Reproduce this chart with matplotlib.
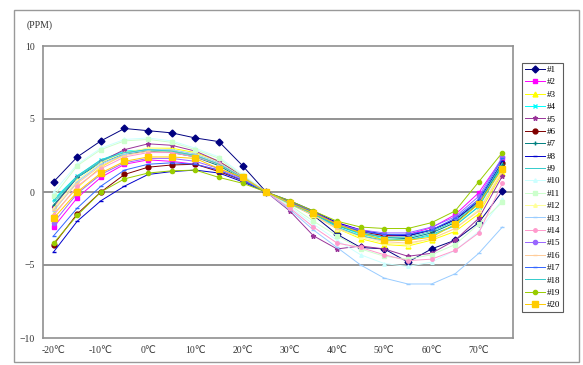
import matplotlib
matplotlib.use('Agg')
import matplotlib.pyplot as plt
from matplotlib.patches import Rectangle

# temperature categories (every 5 degC)
temps = [-20, -15, -10, -5, 0, 5, 10, 15, 20, 25, 30, 35, 40, 45, 50, 55, 60, 65, 70, 75]
tick_labels = ['-20℃', '-10℃', '0℃', '10℃', '20℃', '30℃', '40℃', '50℃', '60℃', '70℃']

names = ['#%d' % i for i in range(1, 21)]

s1 = [0.7, 2.4, 3.5, 4.35, 4.2, 4.05, 3.7, 3.45, 1.8, 0.0, -0.8, -1.6, -2.9, -3.8, -3.9, -4.8, -3.9, -3.3, -2.1, 0.05]
s2 = [-2.4, -0.4, 1.0, 1.9, 2.2, 2.1, 1.9, 1.5, 0.8, 0.0, -0.7, -1.4, -2.1, -2.6, -3.0, -2.9, -2.45, -1.55, -0.05, 2.3]
s3 = [-1.5, 0.3, 1.7, 2.6, 3.0, 3.0, 2.7, 2.1, 1.1, 0.0, -0.8, -1.6, -2.5, -3.2, -3.6, -3.7, -3.3, -2.7, -1.5, 1.3]
s4 = [-0.5, 1.1, 2.2, 2.8, 2.9, 2.8, 2.5, 1.9, 1.0, 0.0, -0.8, -1.5, -2.3, -2.9, -3.2, -3.3, -3.0, -2.3, -1.0, 1.8]
s5 = [-1.0, 1.0, 2.1, 2.9, 3.3, 3.2, 2.8, 2.1, 1.1, 0.0, -1.3, -3.0, -3.9, -3.7, -3.9, -4.4, -4.2, -3.3, -1.8, 1.1]
s6 = [-3.6, -1.5, 0.0, 1.2, 1.7, 1.85, 1.9, 1.4, 0.8, 0.0, -0.7, -1.4, -2.2, -2.7, -3.0, -3.0, -2.6, -1.9, -0.7, 2.0]
s7 = [-0.9, 1.0, 2.0, 2.6, 2.8, 2.7, 2.4, 1.8, 0.9, 0.0, -0.8, -1.5, -2.3, -2.8, -3.1, -3.2, -2.8, -2.1, -0.8, 1.9]
s8 = [-4.1, -2.0, -0.6, 0.4, 1.2, 1.4, 1.5, 1.3, 0.7, 0.0, -0.6, -1.3, -2.1, -2.6, -2.9, -3.0, -2.6, -1.9, -0.6, 2.1]
s9 = [-0.7, 1.0, 2.1, 2.7, 2.9, 2.8, 2.5, 1.9, 1.0, 0.0, -0.8, -1.5, -2.3, -2.8, -3.1, -3.1, -2.7, -2.0, -0.7, 2.0]
s10 = [0.0, 1.9, 3.0, 3.6, 3.7, 3.5, 3.0, 2.4, 1.2, 0.0, -1.0, -2.2, -3.3, -4.3, -4.9, -5.1, -4.8, -4.0, -2.7, -0.5]
s11 = [-0.3, 1.8, 2.9, 3.5, 3.6, 3.4, 2.9, 2.3, 1.1, 0.0, -0.9, -2.0, -3.0, -3.9, -4.4, -4.6, -4.3, -3.6, -2.2, -0.7]
s12 = [-1.1, 0.8, 2.0, 2.7, 3.0, 2.9, 2.6, 2.0, 1.0, 0.0, -0.8, -1.6, -2.5, -3.1, -3.5, -3.6, -3.2, -2.5, -1.2, 1.5]
s13 = [-1.3, 0.7, 1.9, 2.6, 2.9, 2.9, 2.6, 2.0, 1.0, 0.0, -1.2, -2.6, -3.8, -5.0, -5.9, -6.3, -6.3, -5.6, -4.2, -2.4]
s14 = [-1.6, 0.4, 1.6, 2.4, 2.7, 2.7, 2.4, 1.9, 1.0, 0.0, -1.1, -2.4, -3.5, -3.8, -4.3, -4.7, -4.6, -4.0, -2.8, 0.6]
s15 = [-2.1, -0.1, 1.2, 2.0, 2.3, 2.3, 2.1, 1.6, 0.9, 0.0, -0.7, -1.4, -2.2, -2.6, -2.8, -2.8, -2.4, -1.7, -0.3, 2.4]
s16 = [-1.2, 0.6, 1.8, 2.5, 2.8, 2.8, 2.5, 1.9, 1.0, 0.0, -0.8, -1.6, -2.5, -3.0, -3.4, -3.5, -3.2, -2.5, -1.3, 1.4]
s17 = [-3.0, -1.1, 0.4, 1.5, 1.9, 2.0, 1.9, 1.5, 0.8, 0.0, -0.7, -1.4, -2.2, -2.7, -2.9, -2.9, -2.6, -1.8, -0.5, 2.3]
s18 = [-0.6, 1.1, 2.2, 2.7, 2.9, 2.8, 2.5, 1.9, 1.0, 0.0, -0.8, -1.5, -2.4, -3.0, -3.3, -3.3, -2.9, -2.3, -1.0, 1.7]
s19 = [-3.5, -1.6, 0.0, 0.9, 1.3, 1.45, 1.5, 1.0, 0.6, 0.0, -0.6, -1.3, -2.0, -2.4, -2.5, -2.5, -2.1, -1.3, 0.7, 2.7]
s20 = [-1.8, 0.0, 1.3, 2.1, 2.4, 2.4, 2.3, 1.6, 1.0, 0.0, -0.75, -1.45, -2.2, -2.8, -3.3, -3.3, -3.1, -2.2, -0.8, 1.6]

series = [s1, s2, s3, s4, s5, s6, s7, s8, s9, s10,
          s11, s12, s13, s14, s15, s16, s17, s18, s19, s20]

colors = ['#000080', '#FF00FF', '#FFFF00', '#00FFFF', '#993399', '#800000', '#008080', '#0000CC',
          '#33CCCC', '#CCFFFF', '#CCFFCC', '#FFFF99', '#99CCFF', '#FF99CC', '#9966FF', '#FFCC99',
          '#3366FF', '#33CCCC', '#99CC00', '#FFCC00']
markers = ['D', 's', '^', 'x', '*', 'o', '+', '_', '', '^',
           's', '^', '_', 'o', 'o', '_', '_', '', 'o', 's']
msizes = [3.5, 3.5, 3.5, 2.5, 3.5, 3.5, 3.5, 3, 0, 2.5, 2.5, 2.5, 2.5, 2.5, 3, 2.5, 2.5, 0, 3, 4]

plt.rcParams['font.family'] = ['Liberation Serif', 'DejaVu Serif']

fig = plt.figure(figsize=(5.83, 3.65), dpi=100)
fig.patches.append(Rectangle((14 / 583, 3 / 365), 565 / 583, 352 / 365, transform=fig.transFigure,
                             fill=False, edgecolor='#999999', linewidth=1))
ax = fig.add_axes([43 / 583, 27 / 365, 470 / 583, 292 / 365])

x = list(range(len(temps)))
for i, s in enumerate(series):
    ax.plot(x, s, color=colors[i], marker=markers[i] or None, markersize=msizes[i],
            linewidth=0.7, label=names[i])

ax.set_xlim(-0.45, 19.45)
ax.set_ylim(-10, 10)
ax.set_yticks([-10, -5, 0, 5, 10])
ax.set_xticks(x[::2])
ax.set_xticklabels(tick_labels, family=['Liberation Serif', 'DejaVu Sans'])
ax.tick_params(length=0, labelsize=7, colors='#333333', pad=6)
for y in [-5, 0, 5]:
    ax.axhline(y, color='#808080', linewidth=1.2, zorder=0)
for sp in ax.spines.values():
    sp.set_color('#909090')
    sp.set_linewidth(1.2)

fig.text(27 / 583, 1 - 25 / 365, '(PPM)', fontsize=7, va='center', ha='left', color='#333333')

leg = fig.legend(loc='upper left', bbox_to_anchor=(522 / 583, 1 - 63 / 365), fontsize=6.5,
                 frameon=True, fancybox=False, edgecolor='#333333', handlelength=2.2,
                 handletextpad=0.3, borderpad=0.3, labelspacing=0.45, borderaxespad=0)
leg.get_frame().set_linewidth(0.8)

fig.savefig('out.png', dpi=100)
